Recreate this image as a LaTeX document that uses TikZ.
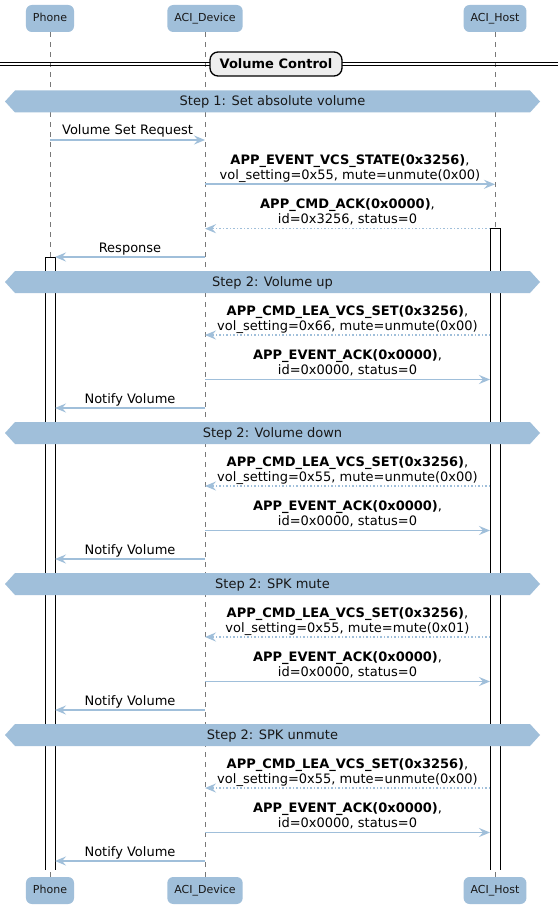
\documentclass[tikz,border=0pt]{standalone}
\usepackage{fontspec}
\setmainfont{DejaVu Sans}
\usetikzlibrary{arrows.meta}
\definecolor{pblue}{RGB}{160,191,218}
\definecolor{divgray}{RGB}{238,238,238}
\definecolor{lifegray}{RGB}{120,120,120}
\definecolor{txt}{RGB}{24,24,24}
\tikzset{
  part/.style={fill=pblue, rounded corners=6pt, minimum height=27pt, inner xsep=7pt, inner ysep=0pt,
    text height=8pt, text depth=2pt, font=\fontsize{11}{13}\selectfont, text=txt},
  life/.style={draw=lifegray, line width=0.8pt, dash pattern=on 5pt off 5pt},
  actfill/.style={fill=white},
  actedge/.style={draw=black, line width=1pt},
  msgline/.style={draw=pblue, line width=1.6pt, -{Stealth[length=11pt,width=9pt,inset=4pt]}},
  retline/.style={msgline, dash pattern=on 1.5pt off 2pt},
  lbl/.style={anchor=base, inner sep=0pt, font=\fontsize{13}{15}\selectfont, text=black},
  steptext/.style={anchor=base, inner sep=0pt, font=\fontsize{13}{15}\selectfont, text=txt},
  divline/.style={draw=black, line width=1pt},
  divbox/.style={draw=black, fill=divgray, line width=1.3pt, rounded corners=8pt, minimum width=132pt,
    minimum height=24pt, inner sep=0pt, font=\fontsize{13}{15}\selectfont\bfseries, text=black},
}
\newcommand\seqtwo[7]{%
  \coordinate (#1s) at (#3,#2);
  \coordinate (#1e) at (#4,#2);
  \draw[#5] (#1s) -- (#1e);
  \node[lbl] (#1a) at ({(#3+#4)/2},{#2-20}) {#6};
  \node[lbl] (#1b) at ({(#3+#4)/2},{#2-5}) {#7};
}
\newcommand\seqone[6]{%
  \coordinate (#1s) at (#3,#2);
  \coordinate (#1e) at (#4,#2);
  \draw[#5] (#1s) -- (#1e);
  \node[lbl] (#1a) at ({(#3+#4)/2},{#2-5}) {#6};
}
\newcommand\stepbar[3]{%
  \fill[pblue] (5,#2) -- (15,{#2-11}) -- (530,{#2-11}) -- (540,#2) -- (530,{#2+11}) -- (15,{#2+11}) -- cycle;
  \node[steptext] (#1) at (272.5,{#2+4.5}) {#3};
}
\begin{document}
\begin{tikzpicture}[x=1pt,y=-1pt]
\useasboundingbox (0,0) rectangle (558,909);
\fill[white] (0,0) rectangle (558,909);

% participants
\node[part] (phT) at (50,18.5) {Phone};
\node[part] (devT) at (205,18.5) {ACI\_Device};
\node[part] (hostT) at (495,18.5) {ACI\_Host};
\node[part] (phB) at (50,890.5) {Phone};
\node[part] (devB) at (205,890.5) {ACI\_Device};
\node[part] (hostB) at (495,890.5) {ACI\_Host};

% lifelines
\draw[life] (phT.south) -- (phB.north);
\draw[life] (devT.south) -- (devB.north);
\draw[life] (hostT.south) -- (hostB.north);

% activations (open at the bottom)
\fill[actfill] (490,228.7) rectangle (500,869.5);
\draw[actedge] (490,869.5) -- (490,228.7) -- (500,228.7) -- (500,869.5);
\fill[actfill] (45.5,257) rectangle (55,869.5);
\draw[actedge] (45.5,869.5) -- (45.5,257) -- (55,257) -- (55,869.5);

% divider
\draw[divline] (0,62.5) -- (558,62.5);
\draw[divline] (0,66) -- (558,66);
\node[divbox] (vc) at (276,64) {Volume Control};

% step 1
\stepbar{s1}{101.5}{Step 1: Set absolute volume}
\seqone{m1}{140}{50}{205}{msgline}{Volume Set Request}
\seqtwo{m2}{184.3}{205}{495}{msgline}{\textbf{APP\_EVENT\_VCS\_STATE(0x3256)},}{vol\_setting=0x55, mute=unmute(0x00)}
\seqtwo{m3}{228.7}{490}{205}{retline}{\textbf{APP\_CMD\_ACK(0x0000)},}{id=0x3256, status=0}
\seqone{m4}{257}{205}{55}{msgline}{Response}

% step 2: volume up
\stepbar{s2}{282}{Step 2: Volume up}
\seqtwo{m5}{335}{490}{205}{retline}{\textbf{APP\_CMD\_LEA\_VCS\_SET(0x3256)},}{vol\_setting=0x66, mute=unmute(0x00)}
\seqtwo{m6}{379.5}{205}{490}{msgline}{\textbf{APP\_EVENT\_ACK(0x0000)},}{id=0x0000, status=0}
\seqone{m7}{408}{205}{55}{msgline}{Notify Volume}

% step 2: volume down
\stepbar{s3}{433}{Step 2: Volume down}
\seqtwo{m8}{486}{490}{205}{retline}{\textbf{APP\_CMD\_LEA\_VCS\_SET(0x3256)},}{vol\_setting=0x55, mute=unmute(0x00)}
\seqtwo{m9}{530.5}{205}{490}{msgline}{\textbf{APP\_EVENT\_ACK(0x0000)},}{id=0x0000, status=0}
\seqone{m10}{559}{205}{55}{msgline}{Notify Volume}

% step 2: spk mute
\stepbar{s4}{584}{Step 2: SPK mute}
\seqtwo{m11}{637}{490}{205}{retline}{\textbf{APP\_CMD\_LEA\_VCS\_SET(0x3256)},}{vol\_setting=0x55, mute=mute(0x01)}
\seqtwo{m12}{681.5}{205}{490}{msgline}{\textbf{APP\_EVENT\_ACK(0x0000)},}{id=0x0000, status=0}
\seqone{m13}{710}{205}{55}{msgline}{Notify Volume}

% step 2: spk unmute
\stepbar{s5}{735}{Step 2: SPK unmute}
\seqtwo{m14}{788}{490}{205}{retline}{\textbf{APP\_CMD\_LEA\_VCS\_SET(0x3256)},}{vol\_setting=0x55, mute=unmute(0x00)}
\seqtwo{m15}{832.5}{205}{490}{msgline}{\textbf{APP\_EVENT\_ACK(0x0000)},}{id=0x0000, status=0}
\seqone{m16}{861}{205}{55}{msgline}{Notify Volume}
\end{tikzpicture}
\end{document}
